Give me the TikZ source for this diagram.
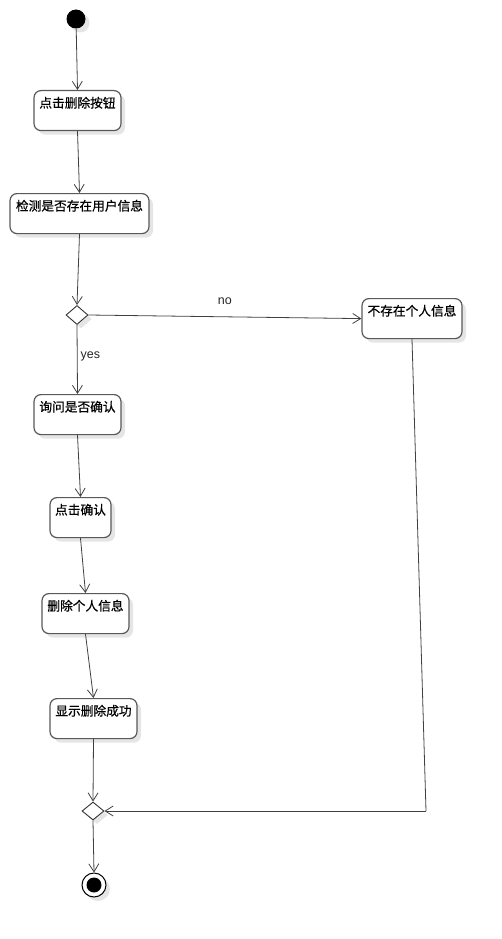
\documentclass[tikz,border=0pt]{standalone}
\usepackage{fontspec}
\newfontfamily\cjk[FakeBold=0.6]{Noto Sans CJK SC}
\newfontfamily\lat{Liberation Sans}
\usetikzlibrary{arrows.meta,shapes.geometric,shadows}
\begin{document}
\begin{tikzpicture}[x=1pt,y=-1pt,
  shd/.style={drop shadow={shadow xshift=4pt,shadow yshift=-4pt,fill=black!10,opacity=1}},
  actbox/.style={rectangle,rounded corners=7pt,draw=black!65,line width=1.2pt,fill=white,shd,
    minimum height=40pt,inner xsep=0pt,inner ysep=4pt,text height=13pt,text depth=19pt,
    font=\cjk\fontsize{12.7}{15}\selectfont,anchor=north},
  decision/.style={diamond,draw=black!80,line width=0.9pt,fill=white,shd,inner sep=0pt,
    minimum width=22pt,minimum height=19pt},
  flow/.style={draw=black!75,line width=0.8pt,-{Straight Barb[length=8pt,width=10pt,line width=0.8pt]}},
  plain/.style={draw=black!75,line width=0.8pt},
  lbl/.style={font=\lat\fontsize{12.5}{14}\selectfont,text=black!85,inner sep=1pt}]
\useasboundingbox (0,0) rectangle (502,939);
\node[circle,fill=black,minimum size=19pt,inner sep=0pt,shd] (start) at (76,19) {};
\node[actbox,minimum width=87pt] (b1) at (77.5,90) {点击删除按钮};
\node[actbox,minimum width=139pt] (b2) at (79.5,193) {检测是否存在用户信息};
\node[decision] (d1) at (77,315) {};
\node[actbox,minimum width=100pt] (b3) at (412,298) {不存在个人信息};
\node[actbox,minimum width=87pt] (b4) at (77.5,394) {询问是否确认};
\node[actbox,minimum width=61pt] (b5) at (80.5,497) {点击确认};
\node[actbox,minimum width=87pt] (b6) at (85.5,593) {删除个人信息};
\node[actbox,minimum width=87pt] (b7) at (93.5,698) {显示删除成功};
\node[decision,minimum height=18pt] (d2) at (93,811) {};
\node[circle,draw=black,line width=1pt,fill=white,minimum size=24pt,inner sep=0pt,shd,
  path picture={\fill[black] (path picture bounding box.center) circle (7.5pt);}] (final) at (94,885) {};
\coordinate (c1) at (426,811);
\draw[flow] (start) -- (b1.north);
\draw[flow] (b1.south) -- (b2.north);
\draw[flow] (b2.south) -- (d1.north);
\draw[flow] (d1.east) -- node[lbl,pos=0.5,yshift=16pt] (no) {no} (b3.west);
\draw[flow] (d1.south) -- node[lbl,pos=0.46,anchor=west,xshift=2pt] (yes) {yes} (b4.north);
\draw[flow] (b4.south) -- (b5.north);
\draw[flow] (b5.south) -- (b6.north);
\draw[flow] (b6.south) -- (b7.north);
\draw[flow] (b7.south) -- (d2.north);
\draw[plain] (b3.south) -- (c1);
\draw[flow] (c1) -- (d2.east);
\draw[flow] (d2.south) -- (final.north);
\end{tikzpicture}
\end{document}
